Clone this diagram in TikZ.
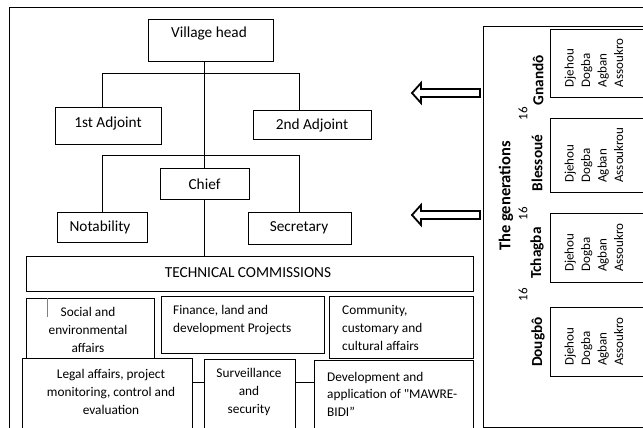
\documentclass[tikz,border=0pt]{standalone}
\usepackage{fontspec}
\setmainfont{Carlito}
\newfontfamily\plainq{Carlito}
\usetikzlibrary{fit}
\begin{document}
\begin{tikzpicture}[x=1pt,y=-1pt,
  frame/.style={draw, line width=0.9pt, inner sep=0pt, fill=white},
  txt/.style={inner sep=0pt, align=center, font=\fontsize{15.3}{17.7}\selectfont},
  ctxt/.style={inner sep=0pt, align=center, font=\fontsize{13.3}{17.6}\selectfont},
  lctxt/.style={ctxt, align=left},
  conn/.style={line width=0.9pt},
  rtxt/.style={inner sep=0pt, rotate=90, align=left, font=\fontsize{13}{16.5}\selectfont},
  gtitle/.style={inner sep=0pt, rotate=90, font=\bfseries\fontsize{15.3}{17}\selectfont},
  gmain/.style={inner sep=0pt, rotate=90, font=\bfseries\fontsize{16.5}{18}\selectfont},
  num/.style={inner sep=0pt, rotate=90, font=\fontsize{13}{16}\selectfont},
  bigarrow/.style={draw, line width=1.8pt, line join=miter}]
\clip (0,0) rectangle (643,428);
\fill[white] (0,0) rectangle (643,428);
% outer frame
\coordinate (fbl) at (9,440);
\coordinate (ftl) at (9,7);
\coordinate (ftr) at (660,7);
\draw[conn] (fbl) -- (ftl) -- (ftr);

% left hierarchy boxes
\node[frame, fit={(148,19) (273,61)}] (vh) {};
\node[txt] (vht) at (209,34) {Village head};
\node[frame, fit={(55,107) (161,144)}] (a1) {};
\node[txt] (a1t) at (108,123) {1st Adjoint};
\node[frame, fit={(253,110) (371,139)}] (a2) {};
\node[txt] (a2t) at (312,125) {2nd Adjoint};
\node[frame, fit={(160,168) (249,199)}] (chief) {};
\node[txt] (chieft) at (204.5,184) {Chief};
\node[frame, fit={(57,212) (147,242)}] (nota) {};
\node[txt] (notat) at (100,227) {Notability};
\node[frame, fit={(248,212) (351,244)}] (secr) {};
\node[txt] (secrt) at (299,228) {Secretary};
\node[frame, fit={(26,256) (473,291)}] (tc) {};
\node[txt] (tct) at (248,273) {TECHNICAL COMMISSIONS};

% commissions
\node[frame, fit={(26,298) (154,358)}] (soc) {};
\node[ctxt] (soct) at (88,330) {Social and\\environmental\\affairs};
\node[frame, fit={(161,296) (324,353)}] (fin) {};
\node[lctxt, anchor=west] (fint) at (173,320) {Finance, land and\\development Projects};
\node[frame, fit={(329,296) (473,358)}] (com) {};
\node[lctxt, anchor=west] (comt) at (342,328) {Community,\\customary and\\cultural affairs};
\node[frame, fit={(22,358) (192,445)}] (leg) {};
\node[ctxt] (legt) at (111,392) {Legal affairs, project\\monitoring, control and\\evaluation};
\node[frame, fit={(204,359) (295,445)}] (surv) {};
\node[ctxt] (survt) at (249,392) {Surveillance\\and\\security};
\node[frame, fit={(314,360) (473,445)}] (dev) {};
\node[lctxt, anchor=west] (devt) at (327,394) {Development and\\application of {\plainq"}MAWRE-\\BIDI”};
\draw[line width=0.9pt, gray] (47,298) -- (47,317);

% connectors
\coordinate (h1l) at (102,73);
\coordinate (h1r) at (299,73);
\coordinate (h2l) at (102,155);
\coordinate (h2r) at (299,155);
\coordinate (hc) at (0,382);
\draw[conn] (vh.south -| chief.north) -- (chief.north);
\draw[conn] (chief.south) -- (tc.north -| chief.south);
\draw[conn] (a1.north -| h1l) -- (h1l) -- (h1r) -- (a2.north -| h1r);
\draw[conn] (nota.north -| h2l) -- (h2l) -- (h2r) -- (secr.north -| h2r);
\draw[conn] (leg.east |- hc) -- (surv.west |- hc);
\draw[conn] (surv.east |- hc) -- (dev.west |- hc);

% arrows
\draw[bigarrow] (412,93) -- (421,83) -- (421,89) -- (480,89) -- (480,97) -- (421,97) -- (421,103) -- cycle;
\draw[bigarrow] (412,215) -- (421,205) -- (421,211) -- (480,211) -- (480,219) -- (421,219) -- (421,225) -- cycle;

% right panel
\node[frame, fit={(483,26) (670,427)}] (gen) {};
\node[gmain] (gent) at (506,196) {The generations};
\node[frame, fit={(550,29) (670,97)}] (g1) {};
\node[frame, fit={(550,118) (670,192)}] (g2) {};
\node[frame, fit={(550,213) (670,282)}] (g3) {};
\node[frame, fit={(550,307) (670,376)}] (g4) {};
\node[gtitle] (l1) at (538,80) {Gnandô};
\node[gtitle] (l2) at (537,163) {Blessoué};
\node[gtitle] (l3) at (537,253) {Tchagba};
\node[gtitle] (l4) at (538,342) {Dougbô};
\node[num] (n1) at (523,114) {16};
\node[num] (n2) at (523,214) {16};
\node[num] (n3) at (523,295) {16};
\node[rtxt] (g1t) at (594,63) {Djehou\\Dogba\\Agban\\Assoukro};
\node[rtxt] (g2t) at (594,155) {Djehou\\Dogba\\Agban\\Assoukrou};
\node[rtxt] (g3t) at (594,247.5) {Djehou\\Dogba\\Agban\\Assoukro};
\node[rtxt] (g4t) at (594,341.5) {Djehou\\Dogba\\Agban\\Assoukro};
\end{tikzpicture}
\end{document}
